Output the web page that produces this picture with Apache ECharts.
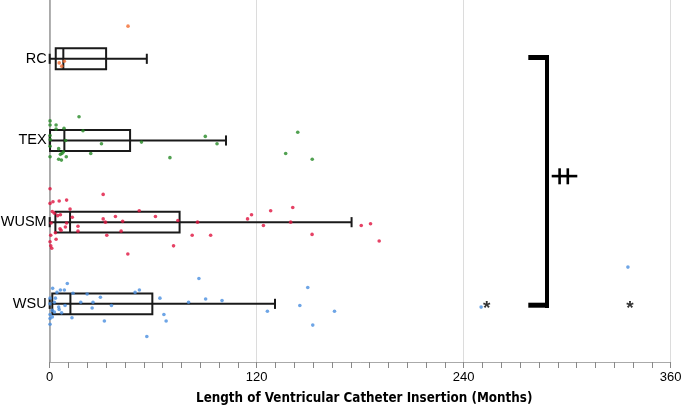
<!DOCTYPE html>
<html>
<head>
<meta charset="utf-8">
<script src="https://cdn.jsdelivr.net/npm/echarts@6/dist/echarts.min.js"></script>
<style>
  html, body { margin: 0; padding: 0; background: #fff; }
  #chart { width: 685px; height: 406px; }
</style>
</head>
<body>
<div id="chart"></div>
<script>
// groups from bottom to top
var groups = ['WSU', 'WUSM', 'TEX', 'RC'];
var colors = ['#4a8fe0', '#e0133f', '#268a26', '#f26a2e'];
var xTicks = [0, 120, 240, 360];

// box stats in months: min, q1, median, q3, max
var boxWSU = [0, 1.5, 12, 59.5, 130.6];
var boxWUSM = [0, 3.3, 11.8, 75.3, 175];
var boxTEX = [0, 0.2, 8.5, 46.6, 102.2];
var boxRC = [0, 3.5, 7.9, 32.7, 56.3];
var outliersWSU = [253.4, 336.4];

// individual catheters: [months, vertical jitter]
var ptsWSU = [
  [86.5, 0.31], [10.2, 0.25], [1.7, 0.19], [6.2, 0.17], [8.5, 0.17], [4.2, 0.14],
  [13.5, 0.13], [21.7, 0.12], [49.5, 0.14], [52, 0.17], [0.2, 0.07], [3.3, 0.07],
  [29.4, 0.08], [63.9, 0.07], [90.4, 0.06], [99.9, 0.04], [80.5, 0.02], [18, 0.02],
  [25.1, 0.02], [2.7, 0.02], [0.2, 0], [35.8, -0.02], [24.6, -0.05], [8.9, -0.02],
  [5.2, -0.04], [5.5, -0.07], [1.5, -0.08], [2.7, -0.1], [6.9, -0.11], [0.2, -0.13],
  [1.5, -0.16], [12.9, -0.17], [0.2, -0.18], [66.2, -0.13], [67.5, -0.21], [31.7, -0.21],
  [0.2, -0.25], [56.3, -0.4], [126.2, -0.09], [145, -0.02], [149.6, 0.2], [152.5, -0.26],
  [165.1, -0.09], [250.1, -0.04], [335.2, 0.45]
];
var ptsWUSM = [
  [0.2, 0.41], [31, 0.34], [1.9, 0.25], [5.5, 0.26], [9.8, 0.27], [0.2, 0.23],
  [1.5, 0.13], [2.7, 0.11], [4.6, 0.08], [6.2, 0.09], [11.8, 0.16], [13.1, 0.06],
  [0.8, -0.01], [9.8, -0.01], [31, 0.04], [32.3, 0], [38.1, 0.07], [42.3, 0.01],
  [51.9, 0.14], [61.3, 0.07], [74.3, 0.02], [85.7, 0], [114.7, 0.04], [117, 0.09],
  [128.1, 0.14], [140.9, 0.18], [139.7, 0], [123.9, -0.04], [152.1, -0.15], [180.6, -0.04],
  [186, -0.02], [191, -0.23], [93.3, -0.16], [82.6, -0.16], [71.8, -0.29], [45.3, -0.39],
  [41.4, -0.11], [33.1, -0.16], [16.4, -0.05], [16.4, -0.11], [9.1, -0.06], [6, -0.08],
  [6.6, -0.1], [3.3, -0.13], [0.6, -0.16], [3.7, -0.21], [0.2, -0.24], [0.6, -0.29],
  [1.2, -0.32]
];
var ptsTEX = [
  [17, 0.29], [0.2, 0.24], [0.2, 0.19], [3.7, 0.19], [8.3, 0.15], [3.7, 0.14],
  [19.3, 0.12], [0.2, 0.06], [9.2, 0], [30, -0.04], [53.2, -0.02], [90.2, 0.05],
  [97, -0.04], [0.2, -0.07], [5.2, -0.1], [7.9, -0.14], [7.1, -0.16], [6.2, -0.17],
  [9.6, -0.2], [23.8, -0.16], [0.2, -0.2], [5.2, -0.23], [6.8, -0.24], [69.7, -0.21],
  [143.8, 0.1], [136.8, -0.16], [152.2, -0.23], [0.3, 0.01]
];
var ptsRC = [[45.4, 0.4], [5.5, -0.05], [8.5, -0.03], [7, -0.09]];

var boxes = [boxWSU, boxWUSM, boxTEX, boxRC];
var points = [ptsWSU, ptsWUSM, ptsTEX, ptsRC];

var chart = echarts.init(document.getElementById('chart'));

var boxData = boxes.map(function (b, i) {
  return [i + 1].concat(b);
});

var series = [{
  type: 'custom',
  silent: true,
  z: 2,
  encode: { x: [1, 2, 3, 4, 5], y: 0 },
  data: boxData,
  renderItem: function (params, api) {
    var y = api.value(0);
    var pMin = api.coord([api.value(1), y]);
    var pQ1 = api.coord([api.value(2), y]);
    var pMed = api.coord([api.value(3), y]);
    var pQ3 = api.coord([api.value(4), y]);
    var pMax = api.coord([api.value(5), y]);
    var c = pMin[1];
    var h = api.size([0, 0.128])[1];
    var cap = api.size([0, 0.062])[1];
    var st = { stroke: '#1a1a1a', lineWidth: 2, fill: 'none' };
    return {
      type: 'group',
      children: [
        { type: 'line', shape: { x1: pMin[0], y1: c, x2: pMax[0], y2: c }, style: st },
        { type: 'line', shape: { x1: pMin[0], y1: c - cap, x2: pMin[0], y2: c + cap }, style: st },
        { type: 'line', shape: { x1: pMax[0], y1: c - cap, x2: pMax[0], y2: c + cap }, style: st },
        { type: 'rect', shape: { x: pQ1[0], y: c - h, width: pQ3[0] - pQ1[0], height: 2 * h }, style: st },
        { type: 'line', shape: { x1: pMed[0], y1: c - h, x2: pMed[0], y2: c + h }, style: st }
      ]
    };
  }
}];

points.forEach(function (pts, i) {
  series.push({
    type: 'scatter',
    z: 3,
    symbolSize: 3.6,
    itemStyle: { color: colors[i] },
    data: pts.map(function (p) { return [p[0], i + 1 + p[1]]; })
  });
});

// outlier markers
series.push({
  type: 'scatter',
  z: 4,
  symbolSize: 1,
  itemStyle: { color: 'rgba(0,0,0,0)' },
  data: outliersWSU.map(function (v) { return [v, 1]; }),
  label: {
    show: true,
    position: 'inside',
    formatter: '*',
    color: '#000',
    fontSize: 19,
    fontWeight: 'bold',
    fontFamily: 'Liberation Sans',
    offset: [0, 5]
  }
});

chart.setOption({
  animation: false,
  grid: { left: 49.7, right: 14.3, top: 0, bottom: 44, outerBoundsMode: 'none' },
  xAxis: {
    type: 'value',
    min: 0,
    max: 360,
    interval: 120,
    name: 'Length of Ventricular Catheter Insertion (Months)',
    nameLocation: 'middle',
    nameGap: 30,
    nameTextStyle: {
      fontFamily: "'Liberation Sans Narrow', 'DejaVu Sans Condensed', 'Liberation Sans', sans-serif",
      fontWeight: 'bold',
      fontSize: 13.3,
      color: '#000',
      padding: [0, 0, 0, 8]
    },
    axisLine: { lineStyle: { color: '#aaa', width: 1 } },
    axisTick: { show: true, length: 6, lineStyle: { color: '#888' } },
    minorTick: { show: true, splitNumber: 11, length: 6, lineStyle: { color: '#888' } },
    splitLine: { show: true, lineStyle: { color: '#dcdcdc', width: 1 } },
    axisLabel: {
      margin: 9,
      fontFamily: 'Liberation Sans',
      fontSize: 13,
      color: '#000',
      customValues: xTicks
    }
  },
  yAxis: {
    type: 'value',
    min: 0.288,
    max: 4.72,
    splitLine: { show: false },
    axisTick: { show: false },
    axisLine: { show: true, lineStyle: { color: '#999', width: 1.5 } },
    axisLabel: {
      margin: 3,
      fontFamily: 'Liberation Sans',
      fontSize: 14.5,
      color: '#000',
      customValues: [1, 2, 3, 4],
      formatter: function (v) { return groups[Math.round(v) - 1]; }
    }
  },
  graphic: [
    // significance bracket between groups
    { type: 'rect', shape: { x: 545, y: 55, width: 4, height: 253 }, style: { fill: '#000' } },
    { type: 'rect', shape: { x: 528.3, y: 55, width: 20.7, height: 5 }, style: { fill: '#000' } },
    { type: 'rect', shape: { x: 528.3, y: 302.7, width: 20.7, height: 5 }, style: { fill: '#000' } },
    { type: 'rect', shape: { x: 551.7, y: 174.8, width: 25.6, height: 2.6 }, style: { fill: '#000' } },
    { type: 'rect', shape: { x: 558.3, y: 168.3, width: 2.6, height: 16 }, style: { fill: '#000' } },
    { type: 'rect', shape: { x: 566.5, y: 168.3, width: 2.6, height: 16 }, style: { fill: '#000' } }
  ],
  series: series
});
</script>
</body>
</html>
